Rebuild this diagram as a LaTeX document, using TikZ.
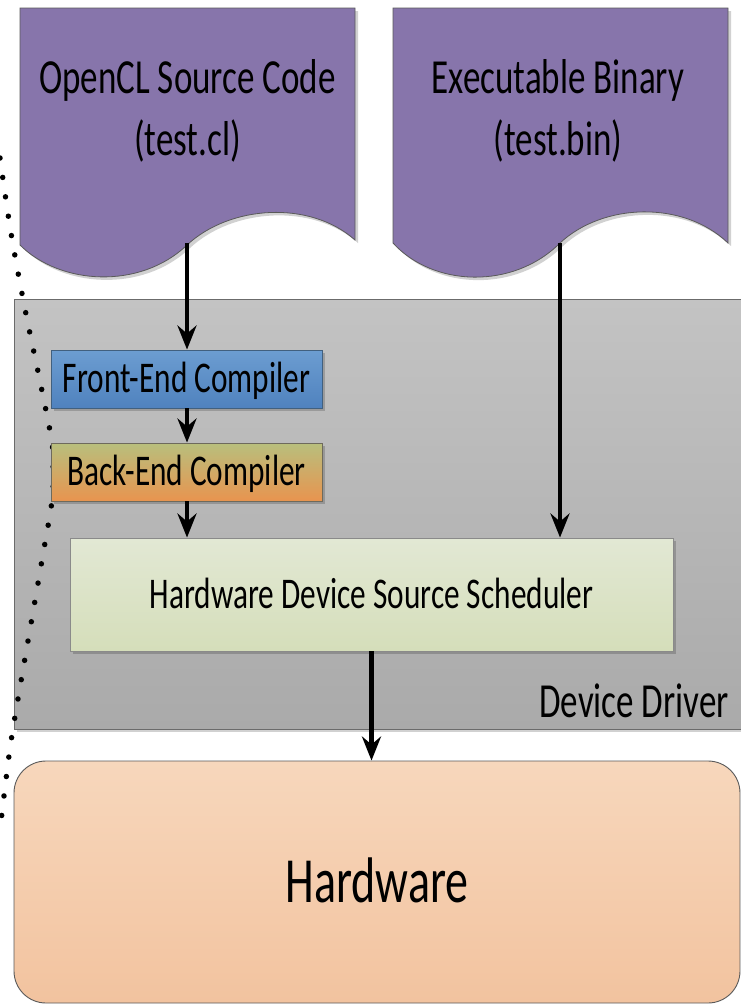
\documentclass[tikz,border=0pt]{standalone}
\usepackage{fontspec}
\setmainfont{Carlito}
\usetikzlibrary{arrows.meta,shadows}
\definecolor{docpurple}{HTML}{8775AB}
\definecolor{docedge}{HTML}{5A5A5A}
\definecolor{ddtop}{HTML}{C3C3C3}
\definecolor{ddbot}{HTML}{AAAAAA}
\definecolor{ddedge}{HTML}{6B6B6B}
\definecolor{fetop}{HTML}{6C9DD1}
\definecolor{febot}{HTML}{4F82BE}
\definecolor{feedge}{HTML}{41607F}
\definecolor{betop}{HTML}{B8BF7D}
\definecolor{bebot}{HTML}{E8944F}
\definecolor{beedge}{HTML}{6E6A5C}
\definecolor{schtop}{HTML}{E2E8D4}
\definecolor{schbot}{HTML}{D5DEBA}
\definecolor{schedge}{HTML}{8A8A8A}
\definecolor{hwtop}{HTML}{F7D7BC}
\definecolor{hwbot}{HTML}{F2C39F}
\definecolor{hwedge}{HTML}{5A5A5A}
\newcommand{\vstr}[1]{\scalebox{1}[1.4]{#1}}
\newcommand{\bigf}{\fontsize{35}{42}\selectfont}
\newcommand{\midf}{\fontsize{31.3}{38}\selectfont}
\newcommand{\hugef}{\fontsize{46}{55}\selectfont}
\begin{document}
\begin{tikzpicture}[x=1pt,y=-1pt,
  shd/.style={drop shadow={shadow xshift=3pt,shadow yshift=-3pt,opacity=0.18,fill=black}},
  doc/.style={fill=docpurple, draw=docedge, line width=0.8pt},
  arr/.style={line width=4.3pt, -{Stealth[length=24pt,width=19pt,inset=8pt]}},
  box/.style={draw, line width=0.9pt, inner sep=0pt, anchor=center, text depth=0pt},
  lbl/.style={inner sep=0pt},
  dots/.style={line width=5.5pt, line cap=round, dash pattern=on 0pt off 19.6pt}
]
\useasboundingbox (0,0) rectangle (741,1004);
\fill[white] (0,0) rectangle (741,1004);

% documents
\path[doc, shd] (20,8) -- (355,8) -- (355,240)
  .. controls (310,200) and (230,205) .. (187,245)
  .. controls (140,290) and (60,285) .. (20,245) -- cycle;
\path[doc, shd] (393,8) -- (728,8) -- (728,243)
  .. controls (683,200) and (603,203) .. (560,243)
  .. controls (513,290) and (433,287) .. (393,243) -- cycle;
\coordinate (srcout) at (187,243);
\coordinate (binout) at (560,243);
\node[lbl, anchor=base] (src1) at (187.5,93) {\bigf\vstr{OpenCL Source Code}};
\node[lbl, anchor=base] (src2) at (187.5,155) {\bigf\vstr{(test.cl)}};
\node[lbl, anchor=base] (bin1) at (558,93) {\bigf\vstr{Executable Binary}};
\node[lbl, anchor=base] (bin2) at (558,155) {\bigf\vstr{(test.bin)}};

% device driver region
\node[box, draw=ddedge, top color=ddtop, bottom color=ddbot, shd,
  minimum width=741pt, minimum height=430pt] (dd) at (384.5,514) {};
\node[lbl, anchor=base east] (ddl) at (729,717) {\bigf\vstr{Device Driver}};

% dotted boundary
\draw[dots] plot[smooth, tension=0.6] coordinates {(0,158) (11,233) (25,309) (41,386) (52,443) (53,472) (52,501) (42,560) (32,618) (19,693) (9.5,752) (0,830)};

% compiler boxes
\node[box, draw=feedge, top color=fetop, bottom color=febot, shd,
  minimum width=271pt, minimum height=58pt, text height=27.7pt] (fe) at (186.5,379)
  {\midf\vstr{Front-End Compiler}};
\node[box, draw=beedge, top color=betop, bottom color=bebot, shd,
  minimum width=271pt, minimum height=58pt, text height=27.7pt] (be) at (186.5,472)
  {\midf\vstr{Back-End Compiler}};
\node[box, draw=schedge, top color=schtop, bottom color=schbot, shd,
  minimum width=603pt, minimum height=113pt, text height=27.7pt] (sch) at (371.5,594.5)
  {\midf\vstr{Hardware Device Source Scheduler}};

% hardware
\node[box, draw=hwedge, top color=hwtop, bottom color=hwbot, rounded corners=32pt,
  minimum width=726pt, minimum height=242pt, text height=40.7pt] (hw) at (377,882)
  {\hugef\vstr{Hardware}};

% connectors
\draw[arr] (srcout) -- (srcout |- fe.north);
\draw[arr] (fe.south -| srcout) -- (srcout |- be.north);
\draw[arr] (be.south -| srcout) -- (srcout |- sch.north);
\draw[arr] (binout) -- (binout |- sch.north);
\draw[arr] (sch.south) -- (sch.south |- hw.north);
\end{tikzpicture}
\end{document}
